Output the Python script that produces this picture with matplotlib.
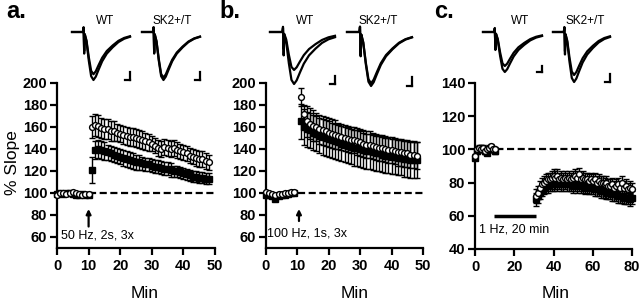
import numpy as np
import matplotlib.pyplot as plt

plt.rcParams.update({
    'font.family': ['Liberation Sans', 'DejaVu Sans'],
    'font.size': 10,
    'axes.linewidth': 1.6,
    'xtick.major.width': 1.6,
    'ytick.major.width': 1.6,
    'xtick.major.size': 5,
    'ytick.major.size': 5,
    'xtick.major.pad': 3,
    'ytick.major.pad': 2,
})

W, H = 640, 301

# ---- time course data (% slope) ----
# panel a: 50 Hz, 2s, 3x
a_base_t = list(range(0, 11))
a_post_t = list(range(11, 49))
a_wt_base = [98, 100, 100, 99, 100, 101, 100, 99, 98, 99, 99]
a_sk_base = [99, 100, 99, 100, 100, 99, 98, 98, 99, 98, 98]
a_wt_post = [160, 162, 161, 159, 158, 158, 156, 156, 155, 154, 153, 152, 151, 151, 150, 149, 148, 147, 146,
             145, 143, 141, 140, 142, 141, 140, 141, 139, 138, 137, 136, 134, 133, 132, 131, 131, 129, 128]
a_sk_post = [121, 139, 140, 139, 138, 137, 136, 135, 134, 133, 132, 131, 130, 129, 128, 128, 127, 126, 126,
             125, 124, 124, 123, 122, 122, 121, 120, 120, 119, 118, 117, 116, 115, 115, 114, 114, 113, 113]
a_wt_err = [10, 10, 10, 9, 9, 9, 9, 9, 8, 8, 8, 8, 8, 8, 8, 8, 8, 8, 8,
            7, 7, 7, 7, 7, 7, 7, 7, 7, 7, 7, 7, 7, 7, 7, 7, 7, 7, 7]
a_sk_err = [12, 8, 8, 8, 8, 7, 7, 7, 7, 7, 7, 7, 7, 7, 7, 7, 6, 6, 6,
            6, 6, 6, 6, 6, 6, 6, 5, 5, 5, 5, 5, 5, 5, 5, 5, 5, 5, 5]

# panel b: 100 Hz, 1s, 3x
b_base_t = list(range(0, 10))
b_post_t = list(range(11, 49))
b_wt_base = [101, 100, 99, 98, 99, 99, 100, 100, 101, 101]
b_sk_base = [98, 98, 97, 95, 97, 98, 98, 99, 100, 100]
b_wt_post = [187, 172, 165, 163, 161, 160, 158, 157, 156, 155, 154, 153, 152, 151, 150, 149, 148, 148, 147,
             146, 145, 144, 144, 143, 142, 141, 141, 140, 139, 139, 138, 137, 137, 136, 136, 135, 135, 134]
b_sk_post = [165, 160, 158, 157, 155, 154, 152, 151, 150, 149, 148, 147, 146, 145, 144, 143, 142, 141, 141,
             140, 139, 138, 138, 137, 136, 136, 135, 134, 134, 133, 133, 132, 132, 131, 131, 130, 130, 130]
b_wt_err = [8, 8, 14, 14, 14, 13, 13, 13, 13, 13, 13, 13, 12, 12, 12, 12, 12, 12, 12,
            12, 12, 12, 12, 12, 12, 12, 12, 12, 12, 12, 12, 12, 12, 12, 12, 12, 12, 12]
b_sk_err = [16, 16, 16, 16, 16, 16, 16, 16, 16, 16, 16, 16, 16, 16, 16, 16, 16, 16, 16,
            16, 16, 16, 16, 16, 16, 16, 16, 16, 16, 16, 16, 16, 16, 16, 16, 16, 16, 16]

# panel c: 1 Hz, 20 min
c_base_t = list(range(0, 11))
c_post_t = list(range(31, 81))
c_wt_base = [96, 100, 101, 100, 101, 99, 100, 101, 102, 100, 100]
c_sk_base = [95, 99, 100, 101, 100, 99, 98, 100, 101, 100, 99]
c_wt_post = [72, 74, 77, 79, 80, 81, 82, 82, 83, 84, 83, 84, 82, 83, 82, 83, 82, 83, 82, 83, 84, 83, 85, 82, 83,
             82, 82, 81, 82, 81, 82, 80, 81, 80, 80, 79, 80, 78, 78, 79, 77, 78, 79, 77, 80, 77, 78, 76, 77, 76]
c_sk_post = [70, 72, 74, 76, 77, 78, 78, 79, 79, 79, 80, 79, 80, 79, 79, 80, 79, 79, 79, 78, 79, 78, 79, 78, 78,
             77, 78, 77, 77, 77, 76, 76, 76, 75, 75, 75, 74, 74, 74, 73, 73, 73, 72, 72, 72, 71, 71, 71, 70, 71]
c_err = 4

# ---- example EPSP traces (normalised, min = -1) ----
trace_t = [0.00, 0.19, 0.20, 0.21, 0.22, 0.25, 0.29, 0.33, 0.37, 0.41, 0.46, 0.52, 0.60, 0.70, 0.80, 0.90, 1.00]
trace_v = [0.00, 0.00, 0.10, -0.45, -0.05, -0.20, -0.60, -0.92, -1.00, -0.93, -0.78, -0.61, -0.45, -0.32, -0.21,
           -0.14, -0.10]
# (pre, post) peak amplitudes per inset
peaks = {
    'a_wt': (0.88, 1.0), 'a_sk': (0.95, 1.0),
    'b_wt': (0.73, 1.0), 'b_sk': (0.95, 1.0),
    'c_wt': (1.0, 0.85), 'c_sk': (1.0, 0.86),
}


def px_box(x0, y0, x1, y1):
    return [x0 / W, 1 - y1 / H, (x1 - x0) / W, (y1 - y0) / H]


fig = plt.figure(figsize=(W / 100, H / 100), dpi=100)


def series(ax, t, y, err, marker):
    if marker == 'o':
        ax.errorbar(t, y, yerr=err, fmt='o', ms=4.2, mfc='white', mec='black', mew=1.0,
                    ecolor='black', elinewidth=1.0, capsize=2, capthick=1.0, clip_on=False, zorder=4)
    else:
        ax.errorbar(t, y, yerr=err, fmt='s', ms=3.8, mfc='black', mec='black', mew=1.0,
                    ecolor='black', elinewidth=1.0, capsize=2, capthick=1.0, clip_on=False, zorder=3)


def setup(ax, xmax, xstep, ymin, ymax, yticks):
    ax.set_xlim(0, xmax)
    ax.set_ylim(ymin, ymax)
    ax.set_xticks(np.arange(0, xmax + 1, xstep))
    ax.set_yticks(yticks)
    ax.spines['top'].set_visible(False)
    ax.spines['right'].set_visible(False)
    ax.tick_params(labelsize=10.5)
    for lab in ax.get_xticklabels() + ax.get_yticklabels():
        lab.set_fontweight('bold')
    ax.axhline(100, color='black', lw=1.6, ls=(0, (3.2, 1.6)), zorder=1)


def traces(box, key):
    tax = fig.add_axes(px_box(*box))
    pre, post = peaks[key]
    deep = max(pre, post)
    for amp in (pre, post):
        tax.plot(trace_t, [v * amp for v in trace_v], color='black', lw=1.6, clip_on=False)
    tax.set_xlim(0, 1)
    tax.set_ylim(-deep, 0)
    tax.axis('off')
    # scale bar
    tax.plot([1.0, 1.0], [0.0, 0.16], transform=tax.transAxes, color='black', lw=1.6, clip_on=False)
    tax.plot([0.92, 1.0], [0.0, 0.0], transform=tax.transAxes, color='black', lw=1.6, clip_on=False)


# panel a
ax = fig.add_axes(px_box(57, 83, 215, 248))
setup(ax, 50, 10, 50, 200, range(60, 201, 20))
series(ax, a_base_t + a_post_t, a_sk_base + a_sk_post, [1] * 11 + a_sk_err, 's')
series(ax, a_base_t + a_post_t, a_wt_base + a_wt_post, [1] * 11 + a_wt_err, 'o')
ax.annotate('', xy=(10, 88), xytext=(10, 67),
            arrowprops=dict(arrowstyle='-|>', lw=1.6, color='black', mutation_scale=7))
ax.text(1.2, 61, '50 Hz, 2s, 3x', fontsize=9, ha='left', va='center')

# panel b
ax = fig.add_axes(px_box(266, 83, 423, 248))
setup(ax, 50, 10, 50, 200, range(60, 201, 20))
series(ax, b_base_t + b_post_t, b_sk_base + b_sk_post, [1] * 10 + b_sk_err, 's')
series(ax, b_base_t + b_post_t, b_wt_base + b_wt_post, [1] * 10 + b_wt_err, 'o')
ax.annotate('', xy=(10.5, 88), xytext=(10.5, 72),
            arrowprops=dict(arrowstyle='-|>', lw=1.6, color='black', mutation_scale=7))
ax.text(0.4, 63.5, '100 Hz, 1s, 3x', fontsize=9, ha='left', va='center')

# panel c
ax = fig.add_axes(px_box(475, 83, 632, 249))
setup(ax, 80, 20, 40, 140, range(40, 141, 20))
series(ax, c_base_t + c_post_t, c_sk_base + c_sk_post, [1.5] * 11 + [c_err] * 50, 's')
series(ax, c_base_t + c_post_t, c_wt_base + c_wt_post, [1.5] * 11 + [c_err] * 50, 'o')
ax.plot([9.5, 31], [60, 60], color='black', lw=2.5, solid_capstyle='butt')
ax.text(1.8, 52, '1 Hz, 20 min', fontsize=9, ha='left', va='center')

# traces
traces((72, 32, 130, 80), 'a_wt')
traces((142, 32, 200, 80), 'a_sk')
traces((270, 32, 335, 84), 'b_wt')
traces((347, 32, 412, 86), 'b_sk')
traces((483, 32, 542, 72), 'c_wt')
traces((553, 32, 610, 82), 'c_sk')

for x, lab in [(105, 'WT'), (172, 'SK2+/T'), (305, 'WT'), (378, 'SK2+/T'), (520, 'WT'), (585, 'SK2+/T')]:
    fig.text(x / W, 1 - 21 / H, lab, fontsize=8.5, ha='center', va='center')

for x, lab in [(6, 'a.'), (219, 'b.'), (434, 'c.')]:
    fig.text(x / W, 1 - 12 / H, lab, fontsize=17, fontweight='bold', ha='left', va='center')

for x in (145, 355, 556):
    fig.text(x / W, 1 - 293 / H, 'Min', fontsize=12.5, ha='center', va='center')
fig.text(12 / W, 1 - 163 / H, '% Slope', fontsize=12.5, rotation=90, ha='center', va='center')

fig.savefig('out.png', dpi=100)
